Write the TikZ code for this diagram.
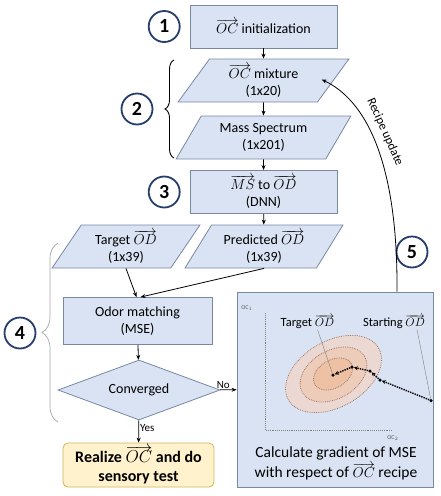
\documentclass[tikz,border=0pt]{standalone}
\usepackage{fontspec}
\setmainfont{Carlito}
\usetikzlibrary{arrows.meta,positioning,shapes.geometric,decorations.pathreplacing}
\definecolor{boxfill}{RGB}{218,227,243}
\definecolor{boxline}{RGB}{120,136,162}
\definecolor{numline}{RGB}{38,62,110}
\definecolor{okfill}{RGB}{255,242,204}
\definecolor{okline}{RGB}{214,178,90}
\definecolor{lossA}{RGB}{236,216,210}
\definecolor{lossB}{RGB}{238,204,186}
\definecolor{lossC}{RGB}{238,192,164}
\definecolor{lossline}{RGB}{160,120,100}
\tikzset{
  proc/.style={draw=boxline, line width=0.8pt, fill=boxfill, align=center, font=\fontsize{14}{17}\selectfont, minimum width=147pt, minimum height=43pt, inner sep=2pt},
  io/.style={proc, trapezium, trapezium left angle=60, trapezium right angle=120, trapezium stretches},
  cond/.style={proc, diamond, aspect=2.7, minimum width=162pt, minimum height=60pt, inner sep=0pt},
  done/.style={proc, draw=okline, fill=okfill, rounded corners=5pt, font=\fontsize{16}{19}\selectfont\bfseries, minimum width=151pt, minimum height=44pt},
  panel/.style={proc, minimum width=196pt, minimum height=195pt},
  num/.style={circle, draw=numline, line width=1.8pt, fill=white, minimum size=31pt, inner sep=0pt, font=\fontsize{20}{20}\selectfont\bfseries},
  arr/.style={-{Stealth[length=5pt,width=4pt]}, line width=0.8pt},
  lbl/.style={font=\fontsize{11}{13}\selectfont, inner sep=1pt},
  axis/.style={densely dotted, gray, line width=0.9pt},
  axlbl/.style={font=\fontsize{6}{7}\selectfont, gray!70!black, inner sep=0pt},
  contour/.style={densely dotted, draw=lossline, line width=0.8pt},
  hop/.style={densely dotted, line width=1.4pt, -{Stealth[length=4pt,width=4pt]}},
  dot/.style={circle, fill=black, inner sep=0pt, minimum size=3.5pt},
  pointer/.style={gray, line width=0.4pt},
  plotlbl/.style={font=\fontsize{12.5}{15}\selectfont, inner sep=1pt}}
\begin{document}
\begin{tikzpicture}[x=1pt, y=-1pt]
  \useasboundingbox (0,0) rectangle (441,496);
  % main column
  \node[proc] (init) at (263.5,26.5) {$\overrightarrow{OC}$ initialization};
  \node[io, minimum width=171pt] (mix) at (263.5,80.5) {$\overrightarrow{OC}$ mixture\\(1x20)};
  \node[io, minimum width=175pt] (ms) at (263.5,137.5) {Mass Spectrum\\(1x201)};
  \node[proc] (dnn) at (263.5,192) {$\overrightarrow{MS}$ to $\overrightarrow{OD}$\\(DNN)};
  \node[io, minimum width=158pt] (pred) at (264,246.5) {Predicted $\overrightarrow{OD}$\\(1x39)};
  \node[io, minimum width=148pt] (target) at (126,246.5) {Target $\overrightarrow{OD}$\\(1x39)};
  \node[proc, minimum width=149pt, minimum height=47pt] (match) at (137.5,321) {Odor matching\\(MSE)};
  \node[cond] (conv) at (139,390) {Converged};
  \node[done] (real) at (138.5,465) {Realize $\overrightarrow{OC}$ and do\\sensory test};
  \node[panel] (grad) at (335,389.5) {};
  % step numbers
  \node[num, left=9pt of init] (n1) {1};
  \node[num] (n2) at (137,109) {2};
  \node[num, left=9pt of dnn] (n3) {3};
  \node[num] (n4) at (20,333) {4};
  \node[num] (n5) at (412,252) {5};
  % braces
  \coordinate (b2a) at (174,158);
  \coordinate (b2b) at (174,60);
  \draw[decorate, decoration={brace, amplitude=9pt}, line width=0.9pt] (b2a) -- (b2b);
  \coordinate (b4a) at (58,422);
  \coordinate (b4b) at (58,243);
  \draw[decorate, decoration={brace, amplitude=16pt}, gray!70, line width=0.7pt] (b4a) -- (b4b);
  % connectors
  \draw[arr] (init) -- (mix);
  \draw[arr] (mix) -- (ms);
  \draw[arr] (ms) -- (dnn);
  \draw[arr] (dnn) -- (pred);
  \draw[arr] (target.center |- target.south) -- ([xshift=-1pt]match.north);
  \draw[arr] (pred.center |- pred.south) -- ([xshift=3pt]match.north);
  \draw[arr] (match) -- (conv);
  \draw[arr] (conv) -- node[lbl, right, pos=0.35] {Yes} (real);
  \draw[arr] (conv) -- node[lbl, above, pos=0.2] {No} (grad);
  \draw[arr] ([xshift=62pt]grad.north) .. controls (398,160) and (365,100) .. ([xshift=-12pt, yshift=1pt]mix.east);
  \node[font=\fontsize{12.5}{14}\selectfont, rotate=-66] (upd) at (385,132) {Recipe update};
  % gradient panel
  \coordinate (o) at (265,430);
  \draw[axis] (265,313) -- (o) -- (392,430);
  \node[axlbl] (oc1) at (247,308) {OC$_1$};
  \node[axlbl] (oc2) at (393,438) {OC$_2$};
  \fill[lossA] (333.5,374) ellipse[x radius=52, y radius=33, rotate=30];
  \draw[contour] (333.5,374) ellipse[x radius=52, y radius=33, rotate=30];
  \fill[lossB] (333.5,374.5) ellipse[x radius=36, y radius=24, rotate=30];
  \draw[contour] (333.5,374.5) ellipse[x radius=36, y radius=24, rotate=30];
  \fill[lossC] (333,374) ellipse[x radius=21, y radius=14, rotate=30];
  \draw[contour] (333,374) ellipse[x radius=21, y radius=14, rotate=30];
  \node[dot] (p0) at (333,375) {};
  \node[dot] (p1) at (352,367) {};
  \node[dot] (p2) at (370,371) {};
  \node[dot] (p3) at (380,380) {};
  \node[dot] (p4) at (431,400.5) {};
  \draw[hop] (p4) -- (p3);
  \draw[hop] (p3) -- (p2);
  \draw[hop] (p2) -- (p1);
  \draw[hop] (p1) -- (p0);
  \node[plotlbl] (tgt) at (307.5,321.5) {Target $\overrightarrow{OD}$};
  \node[plotlbl] (start) at (394,321.5) {Starting $\overrightarrow{OD}$};
  \draw[pointer] ([xshift=10pt]tgt.south) -- (p0);
  \draw[pointer] ([xshift=23pt]start.south) -- (p4);
  \node[font=\fontsize{15.5}{20}\selectfont, align=center] (gtxt) at (336,463) {Calculate gradient of MSE\\with respect of $\overrightarrow{OC}$ recipe};
\end{tikzpicture}
\end{document}
